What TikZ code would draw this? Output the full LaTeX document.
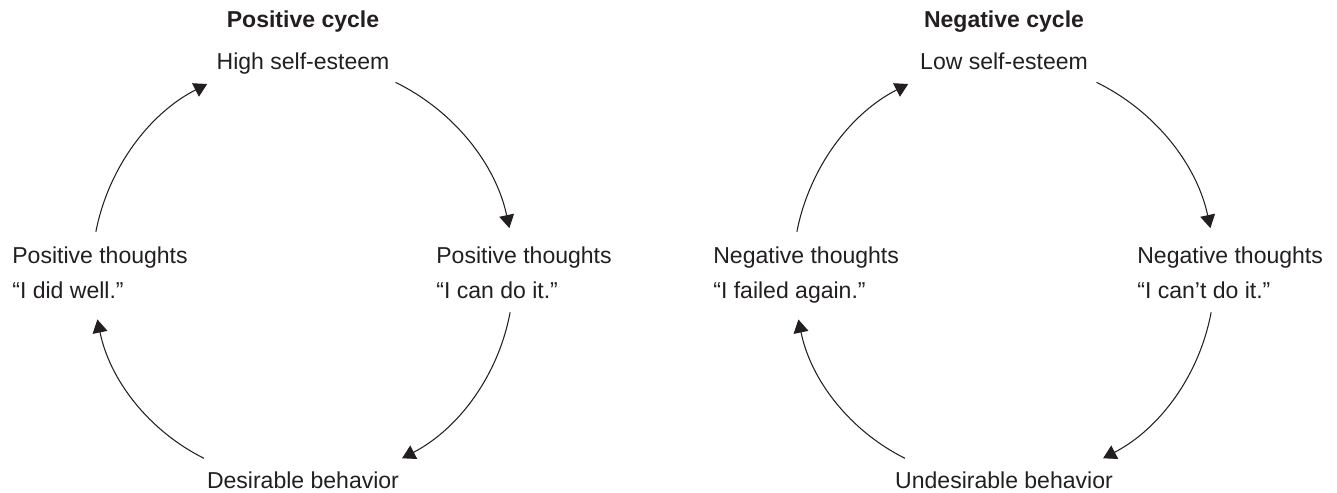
\documentclass[tikz,border=0pt]{standalone}
\usepackage{fontspec}
\setmainfont{Liberation Sans}
\usetikzlibrary{arrows.meta,calc,positioning}
\definecolor{ink}{RGB}{35,31,32}
\tikzset{
	lbl/.style={inner sep=0pt, text=ink, font=\fontsize{13.1}{15}\selectfont},
	ttl/.style={lbl, font=\fontsize{13.1}{15}\selectfont\bfseries},
	cyc/.style={draw=ink, line width=0.6pt, -{Triangle[length=7.5pt,width=8.5pt]}, bend left=26, looseness=0.9},
}

\begin{document}
\begin{tikzpicture}
		\useasboundingbox (0,0) rectangle (26.74,9.84);
		% positive cycle
		\node[ttl, anchor=base] (p-title) at (6.06,9.28) {Positive cycle};
		\node[lbl, anchor=base] (p-top) at (6.06,8.44) {High self-esteem};
		\node[lbl, anchor=base west] (p-right) at (8.72,4.58) {Positive thoughts};
		\node[lbl, anchor=base west] (p-right-q) at (8.72,3.88) {“I can do it.”};
		\node[lbl, anchor=base] (p-bottom) at (6.06,0.08) {Desirable behavior};
		\node[lbl, anchor=base west] (p-left) at (0.24,4.58) {Positive thoughts};
		\node[lbl, anchor=base west] (p-left-q) at (0.24,3.88) {“I did well.”};
		\coordinate (p-c) at (6.06,4.40);
		\coordinate (p-1) at ($(p-c)+(64:4.22)$);
		\coordinate (p-2) at ($(p-c)+(12:4.22)$);
		\coordinate (p-3) at ($(p-c)+(-11:4.22)$);
		\coordinate (p-4) at ($(p-c)+(-62:4.22)$);
		\coordinate (p-5) at ($(p-c)+(-118:4.22)$);
		\coordinate (p-6) at ($(p-c)+(-167:4.22)$);
		\coordinate (p-7) at ($(p-c)+(169:4.22)$);
		\coordinate (p-8) at ($(p-c)+(117:4.22)$);
		\draw[cyc] (p-1) to (p-2);
		\draw[cyc] (p-3) to (p-4);
		\draw[cyc] (p-5) to (p-6);
		\draw[cyc] (p-7) to (p-8);
		% negative cycle
		\begin{scope}[xshift=14.02cm]
		\node[ttl, anchor=base] (n-title) at (6.06,9.28) {Negative cycle};
		\node[lbl, anchor=base] (n-top) at (6.06,8.44) {Low self-esteem};
		\node[lbl, anchor=base west] (n-right) at (8.72,4.58) {Negative thoughts};
		\node[lbl, anchor=base west] (n-right-q) at (8.72,3.88) {“I can’t do it.”};
		\node[lbl, anchor=base] (n-bottom) at (6.06,0.08) {Undesirable behavior};
		\node[lbl, anchor=base west] (n-left) at (0.24,4.58) {Negative thoughts};
		\node[lbl, anchor=base west] (n-left-q) at (0.24,3.88) {“I failed again.”};
		\coordinate (n-c) at (6.06,4.40);
		\coordinate (n-1) at ($(n-c)+(64:4.22)$);
		\coordinate (n-2) at ($(n-c)+(12:4.22)$);
		\coordinate (n-3) at ($(n-c)+(-11:4.22)$);
		\coordinate (n-4) at ($(n-c)+(-62:4.22)$);
		\coordinate (n-5) at ($(n-c)+(-118:4.22)$);
		\coordinate (n-6) at ($(n-c)+(-167:4.22)$);
		\coordinate (n-7) at ($(n-c)+(169:4.22)$);
		\coordinate (n-8) at ($(n-c)+(117:4.22)$);
		\draw[cyc] (n-1) to (n-2);
		\draw[cyc] (n-3) to (n-4);
		\draw[cyc] (n-5) to (n-6);
		\draw[cyc] (n-7) to (n-8);
		\end{scope}
	\end{tikzpicture}
\end{document}
